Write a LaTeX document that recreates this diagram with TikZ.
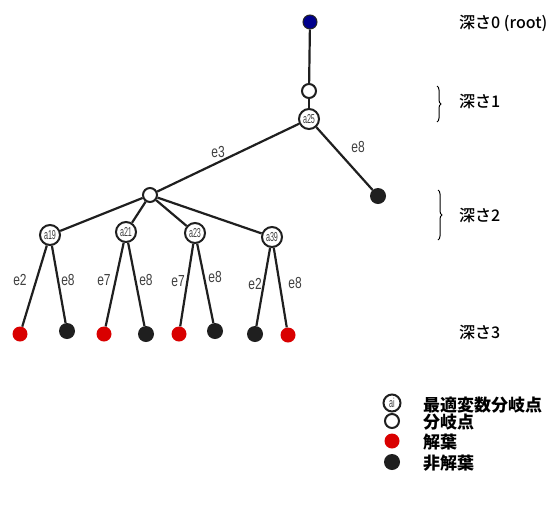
\documentclass[tikz,border=0pt]{standalone}
\usepackage{fontspec}
\setmainfont{Liberation Sans}
\newfontfamily\cjk{Noto Sans CJK JP}
\newfontfamily\cjkm{Noto Sans CJK JP Medium}
\newfontfamily\cond[FakeStretch=0.75]{Liberation Sans}
\newfontfamily\condn[FakeStretch=0.55]{Liberation Sans}
\usetikzlibrary{decorations.pathreplacing}
\tikzset{
  edge/.style={line width=2.2pt, black!88},
  wnode/.style={circle, draw=black!88, line width=2pt, fill=white, minimum size=14pt, inner sep=0pt},
  anode/.style={circle, draw=black!88, line width=2pt, fill=white, minimum size=20pt, inner sep=0pt, font=\condn\fontsize{13}{13}\selectfont, text=black!75},
  rleaf/.style={circle, fill=red!85!black, minimum size=15pt, inner sep=0pt},
  bleaf/.style={circle, fill=black!88, minimum size=16pt, inner sep=0pt},
  rootn/.style={circle, draw=black!85, line width=1pt, fill=blue!55!black, minimum size=14pt, inner sep=0pt},
  elab/.style={font=\cond\fontsize{16}{16}\selectfont, text=black!75, inner sep=0pt},
  jlab/.style={font=\cjkm\fontsize{16}{16}\selectfont, anchor=west, inner sep=0pt},
  leglab/.style={font=\cjk\bfseries\fontsize{17}{17}\selectfont, anchor=west, inner sep=0pt},
  brc/.style={decorate, decoration={brace, amplitude=4pt}, line width=1pt}
}
\begin{document}
\begin{tikzpicture}[x=1pt, y=-1pt]
\useasboundingbox (0,0) rectangle (559,504);
% nodes
\node[rootn] (r) at (310,22) {};
\node[wnode] (w1) at (309,91) {};
\node[anode] (a25) at (309,119) {a25};
\node[bleaf] (l1) at (378,196) {};
\node[wnode] (w2) at (150,195) {};
\node[anode] (a19) at (50,235) {a19};
\node[anode] (a21) at (126,232) {a21};
\node[anode] (a23) at (195,233) {a23};
\node[anode] (a39) at (272,237) {a39};
\node[rleaf] (x1) at (20,334) {};
\node[bleaf] (x2) at (67,331) {};
\node[rleaf] (x3) at (104,334) {};
\node[bleaf] (x4) at (146,334) {};
\node[rleaf] (x5) at (179,334) {};
\node[bleaf] (x6) at (215,331) {};
\node[bleaf] (x7) at (255,334) {};
\node[rleaf] (x8) at (288,335) {};
% edges
\draw[edge] (r) -- (w1);
\draw[edge] (w1) -- (a25);
\draw[edge] (a25) -- (w2);
\draw[edge] (a25) -- (l1);
\draw[edge] (w2) -- (a19);
\draw[edge] (w2) -- (a21);
\draw[edge] (w2) -- (a23);
\draw[edge] (w2) -- (a39);
\draw[edge] (a19) -- (x1);
\draw[edge] (a19) -- (x2);
\draw[edge] (a21) -- (x3);
\draw[edge] (a21) -- (x4);
\draw[edge] (a23) -- (x5);
\draw[edge] (a23) -- (x6);
\draw[edge] (a39) -- (x7);
\draw[edge] (a39) -- (x8);
% edge labels
\node[elab] (t1) at (218,152) {e3};
\node[elab] (t2) at (358,147) {e8};
\node[elab] (t3) at (20,280) {e2};
\node[elab] (t4) at (68,280) {e8};
\node[elab] (t5) at (104,280) {e7};
\node[elab] (t6) at (146,280) {e8};
\node[elab] (t7) at (178,281) {e7};
\node[elab] (t8) at (215,277) {e8};
\node[elab] (t9) at (255,284) {e2};
\node[elab] (t10) at (295,283) {e8};
% depth labels
\node[jlab] (d0) at (459,23) {深さ0 (root)};
\node[jlab] (d1) at (459,101) {深さ1};
\coordinate (b1a) at (437,86);
\coordinate (b1b) at (437,122);
\draw[brc] (b1a) -- (b1b);
\node[jlab] (d2) at (459,215) {深さ2};
\coordinate (b2a) at (438,190);
\coordinate (b2b) at (438,240);
\draw[brc] (b2a) -- (b2b);
\node[jlab] (d3) at (459,332) {深さ3};
% legend
\node[anode, minimum size=17pt] (g1) at (392,403) {ai};
\node[leglab] (gl1) at (423,405) {最適変数分岐点};
\node[wnode] (g2) at (392,421) {};
\node[leglab] (gl2) at (423,422) {分岐点};
\node[rleaf] (g3) at (392,441) {};
\node[leglab] (gl3) at (423,442) {解葉};
\node[bleaf] (g4) at (392,462) {};
\node[leglab] (gl4) at (423,463) {非解葉};
\end{tikzpicture}
\end{document}
